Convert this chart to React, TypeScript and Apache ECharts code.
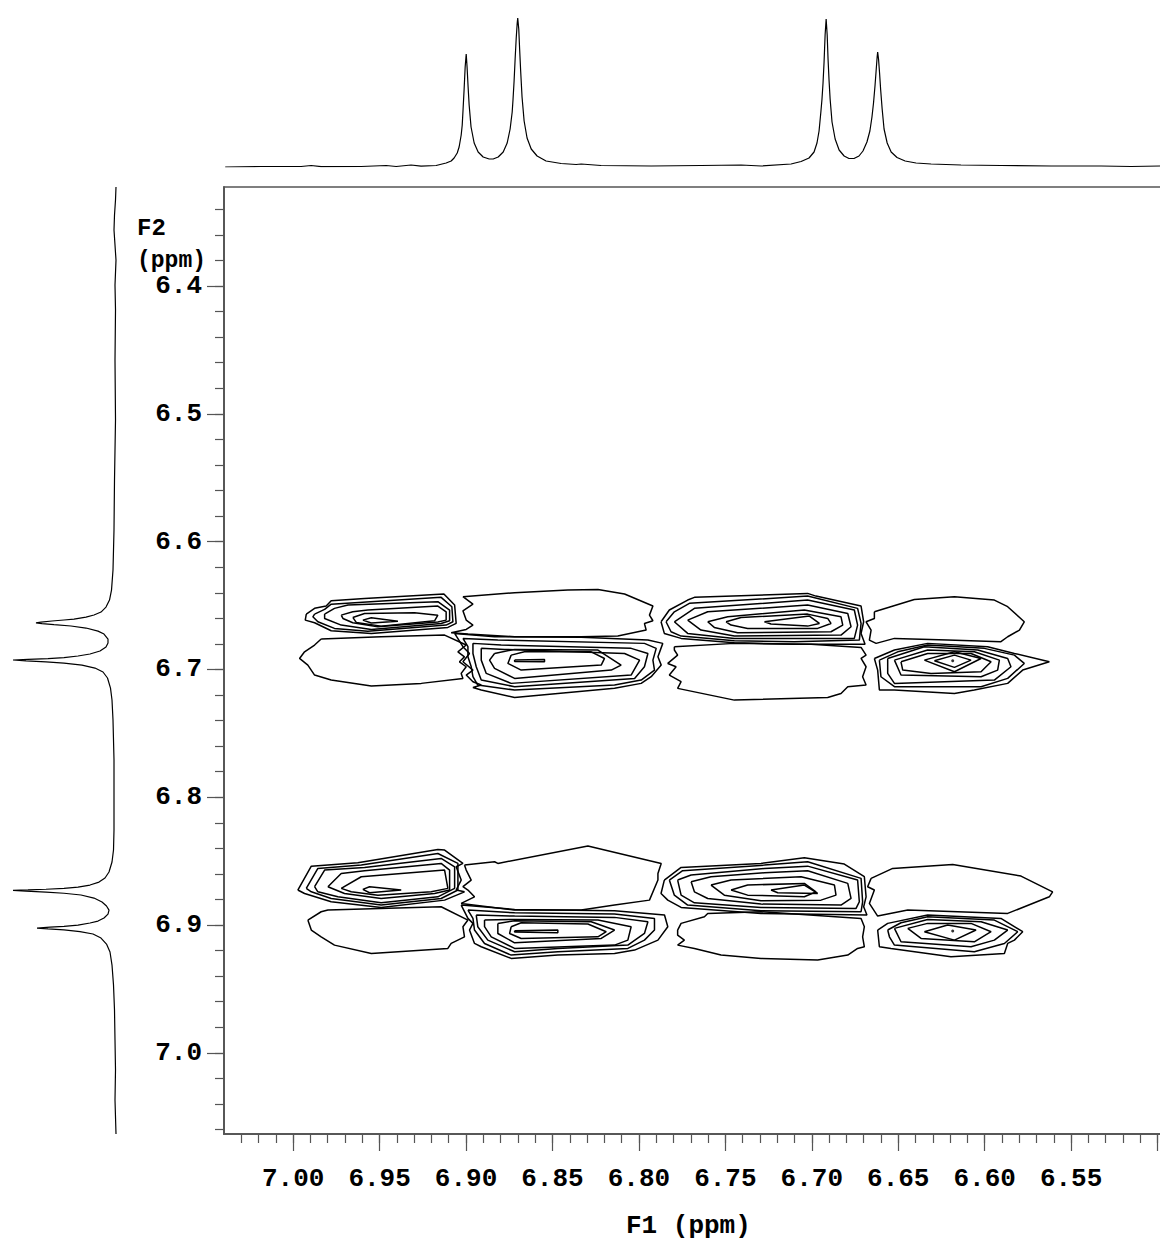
import React, { useEffect, useRef } from "react";
import * as echarts from "echarts";

// ---------- axes ----------
const F1_MIN = 6.45;
const F1_MAX = 7.04;
const F2_MIN = 6.3225;
const F2_MAX = 7.0635;
const F1_MAJOR_TICKS = [7.0, 6.95, 6.9, 6.85, 6.8, 6.75, 6.7, 6.65, 6.6, 6.55, 6.5];
const F1_LABELS = [7.0, 6.95, 6.9, 6.85, 6.8, 6.75, 6.7, 6.65, 6.6, 6.55];
const F2_LABELS = [6.4, 6.5, 6.6, 6.7, 6.8, 6.9, 7.0];
const F1_MINOR_STEP = 0.01;
const F2_MINOR_STEP = 0.02;

// ---------- 1D projections [ppm, intensity] ----------
const topSpectrum = [
  [7.0393,0],[7.0185,0.5],[6.9954,0.5],[6.9896,1.5],[6.9838,0.3],[6.9607,0.5],[6.9462,1.5],[6.9404,0.5],[6.9318,2],[6.926,0.8],[6.9173,1.5],
  [6.9115,4],[6.9086,6],[6.9069,9],[6.9051,14],[6.904,20],[6.9028,32],[6.9022,42],[6.9017,58],[6.9011,78],[6.9005,100],[6.8999,113],[6.8994,100],[6.8988,80],[6.8982,62],[6.8971,40],[6.8953,24],[6.893,15],[6.8901,10],[6.8866,8],[6.8843,8],
  [6.8814,10],[6.8785,15],[6.8762,24],[6.8745,38],[6.8733,55],[6.8728,68],[6.8722,86],[6.8716,108],[6.871,128],[6.8704,144],[6.8701,149],[6.8695,138],[6.869,118],[6.8684,96],[6.8676,70],[6.8664,46],[6.8647,29],[6.8623,18],[6.8589,11],[6.8537,6],
  [6.845,3.5],[6.8363,2.5],[6.8334,3],[6.8219,1.5],[6.7929,1],[6.764,1.5],[6.7409,2],[6.7293,1],[6.712,3],[6.7062,5.5],
  [6.7016,9],[6.6987,15],[6.697,24],[6.6958,36],[6.6947,56],[6.6941,68],[6.6935,84],[6.6929,105],[6.6923,132],[6.6917,148],[6.6911,132],[6.6906,108],[6.69,86],[6.6894,68],[6.6883,45],[6.6865,28],[6.6842,17],[6.6813,11],[6.6785,8.5],[6.6756,8.5],
  [6.6727,11],[6.6704,16],[6.6681,25],[6.6664,36],[6.6652,50],[6.6643,64],[6.6634,82],[6.6628,96],[6.6622,110],[6.6619,115],[6.6614,108],[6.6608,94],[6.6602,78],[6.6593,58],[6.6582,38],[6.6564,24],[6.6541,15],[6.6507,9.5],[6.646,6],[6.6397,4],
  [6.631,3],[6.6137,2],[6.5905,1.5],[6.5616,1],[6.5327,1],[6.5153,0.5],[6.498,1]
];
const leftSpectrum = [
  [6.3225,0],[6.3327,0.5],[6.3444,1.5],[6.3562,2],[6.3679,1],[6.3797,0],[6.3992,1],[6.4188,0.5],[6.4579,1],[6.5049,0.5],[6.5518,1.5],[6.5909,2],[6.6222,3],[6.6379,4.5],
  [6.6457,6.5],[6.6512,10],[6.6551,15],[6.6574,22],[6.659,30],[6.6606,42],[6.6613,52],[6.6621,64],[6.6629,75],[6.6635,80],[6.6641,74],[6.6649,62],[6.666,45],[6.6676,30],[6.67,18],[6.6723,12],[6.6762,8],[6.6793,8],
  [6.6825,10],[6.6856,16],[6.6879,26],[6.6895,38],[6.6907,52],[6.6915,68],[6.6921,88],[6.6926,103],[6.6933,90],[6.6941,70],[6.695,52],[6.6966,34],[6.6989,21],[6.702,13],[6.7067,8.5],[6.7146,5.5],[6.7239,4],
  [6.7396,3],[6.7709,2],[6.8022,2],[6.8257,2],[6.8413,2.5],[6.8507,4],
  [6.8585,7],[6.8632,11],[6.8664,17],[6.8687,26],[6.8703,38],[6.8713,52],[6.872,70],[6.8725,88],[6.8728,103],[6.8734,90],[6.8742,70],[6.8751,52],[6.8765,35],[6.8789,22],[6.882,14],[6.8851,9.5],[6.8883,7],
  [6.8914,8],[6.8945,12],[6.8969,18],[6.8984,26],[6.9,38],[6.901,52],[6.9017,66],[6.9024,79],[6.903,68],[6.9038,52],[6.9051,36],[6.907,23],[6.9102,15],[6.9149,9.5],[6.9211,6],[6.9313,4],
  [6.9469,2.5],[6.9665,1.5],[6.99,1],[7.0135,0.5],[7.0369,1],[7.0635,0]
];

// ---------- 2D contour rings [F1 ppm, F2 ppm] ----------
const crossA = [
  [[6.9924,6.6567],[6.9876,6.6522],[6.9809,6.6504],[6.978,6.6462],[6.9587,6.6444],[6.9128,6.641],[6.9066,6.6496],[6.9057,6.664],[6.9105,6.6671],[6.9548,6.6718],[6.978,6.6697],[6.9876,6.6635],[6.993,6.6614]],
  [[6.9876,6.6567],[6.9818,6.653],[6.978,6.6489],[6.9144,6.6436],[6.9082,6.6509],[6.9076,6.6627],[6.9115,6.6653],[6.9568,6.6702],[6.9761,6.6679],[6.9857,6.6627],[6.9886,6.6588]],
  [[6.9818,6.6567],[6.9761,6.6522],[6.9683,6.6496],[6.9163,6.647],[6.9095,6.6535],[6.9095,6.6619],[6.9144,6.664],[6.9548,6.6687],[6.9722,6.6653],[6.9818,6.6601]],
  [[6.9722,6.6575],[6.9655,6.6549],[6.9568,6.6535],[6.9163,6.6504],[6.9115,6.6549],[6.9115,6.6614],[6.9163,6.6629],[6.951,6.6666],[6.9655,6.6635],[6.9712,6.6601]],
  [[6.9655,6.6593],[6.9587,6.6562],[6.9298,6.6556],[6.9163,6.6575],[6.9182,6.6619],[6.9491,6.6661],[6.9635,6.6632]],
  [[6.9597,6.6614],[6.9548,6.6595],[6.9394,6.6622],[6.9548,6.6637]]
];
const crossB = [
  [[6.9838,6.6762],[6.9491,6.6744],[6.9124,6.6731],[6.8999,6.6809],[6.9047,6.6862],[6.9009,6.6901],[6.9038,6.694],[6.8999,6.6979],[6.9028,6.7031],[6.9018,6.707],[6.9259,6.7109],[6.9548,6.713],[6.978,6.7083],[6.9876,6.7044],[6.9915,6.6966],[6.9963,6.6914],[6.9934,6.6862],[6.9876,6.6809]]
];
const crossC = [
  [[6.9018,6.6431],[6.8719,6.64],[6.8411,6.6379],[6.8237,6.6374],[6.8083,6.641],[6.7919,6.6504],[6.7939,6.6575],[6.7919,6.6619],[6.7968,6.664],[6.7958,6.6692],[6.8122,6.6739],[6.8334,6.6744],[6.8719,6.6744],[6.8989,6.6723],[6.9086,6.6713],[6.8999,6.6687],[6.896,6.6653],[6.8999,6.6614],[6.9018,6.6541],[6.896,6.6489]]
];
const crossD = [
  [[6.9066,6.6718],[6.8835,6.6744],[6.8334,6.6748],[6.7948,6.677],[6.7862,6.6796],[6.789,6.6901],[6.7871,6.6966],[6.7929,6.7057],[6.7987,6.7109],[6.8141,6.7148],[6.8469,6.7188],[6.8719,6.7219],[6.8912,6.7161],[6.896,6.7141],[6.8912,6.7122],[6.896,6.7096],[6.8999,6.7044],[6.896,6.7005],[6.9018,6.694],[6.898,6.6875],[6.9018,6.6822]],
  [[6.9018,6.6757],[6.8816,6.677],[6.7968,6.6796],[6.79,6.6835],[6.7919,6.6927],[6.791,6.7005],[6.7987,6.7083],[6.8141,6.7122],[6.8719,6.7161],[6.8932,6.7122],[6.896,6.7057],[6.897,6.6979],[6.8989,6.6901],[6.8989,6.6822]],
  [[6.896,6.6796],[6.8797,6.6809],[6.8045,6.6835],[6.7948,6.6875],[6.7968,6.6979],[6.8025,6.707],[6.8719,6.7135],[6.8912,6.7083],[6.8941,6.6979],[6.896,6.6875]],
  [[6.8912,6.6835],[6.8777,6.6843],[6.8083,6.6875],[6.7996,6.6927],[6.8045,6.7044],[6.8739,6.7109],[6.8883,6.7031],[6.8912,6.6927]],
  [[6.8835,6.6875],[6.8719,6.6843],[6.8237,6.6848],[6.8103,6.6966],[6.816,6.7005],[6.8719,6.707],[6.8835,6.6992],[6.8864,6.6927]],
  [[6.8739,6.6888],[6.8662,6.6862],[6.8276,6.6862],[6.8199,6.6914],[6.8218,6.6966],[6.8681,6.7005],[6.8758,6.6953]],
  [[6.8719,6.6927],[6.8546,6.6922],[6.8546,6.694],[6.8719,6.6937]]
];
const crossE = [
  [[6.7872,6.6627],[6.7824,6.6535],[6.7718,6.6457],[6.7679,6.6436],[6.7024,6.6405],[6.6976,6.6426],[6.6715,6.6504],[6.67,6.6627],[6.6715,6.6718],[6.6692,6.6802],[6.7101,6.6802],[6.7448,6.6791],[6.7756,6.6757],[6.7853,6.6718]],
  [[6.7843,6.6627],[6.7795,6.6549],[6.7708,6.6483],[6.7024,6.6426],[6.6735,6.6522],[6.6715,6.664],[6.6725,6.677],[6.7101,6.6783],[6.7448,6.6775],[6.7756,6.6739],[6.7814,6.6705]],
  [[6.7795,6.6627],[6.7679,6.6522],[6.7024,6.6457],[6.6754,6.6535],[6.6735,6.6653],[6.6754,6.6757],[6.7448,6.6757],[6.7718,6.6718]],
  [[6.7718,6.6614],[6.7602,6.6549],[6.7024,6.6496],[6.6792,6.6562],[6.6773,6.6666],[6.6831,6.6731],[6.7448,6.6739],[6.7641,6.6692]],
  [[6.7602,6.6627],[6.7486,6.6588],[6.7043,6.6535],[6.6831,6.6588],[6.6821,6.6653],[6.6889,6.6705],[6.7429,6.6713],[6.7564,6.6671]],
  [[6.7496,6.6627],[6.7409,6.6593],[6.7024,6.6567],[6.6908,6.6601],[6.6889,6.664],[6.6966,6.6679],[6.7371,6.6679],[6.7467,6.6653]],
  [[6.7274,6.6627],[6.7014,6.6582],[6.6956,6.664],[6.7024,6.6661],[6.7236,6.6645]]
];
const crossF = [
  [[6.7795,6.6822],[6.7448,6.6796],[6.7004,6.6802],[6.6715,6.6828],[6.6686,6.6888],[6.6715,6.6914],[6.6686,6.6979],[6.6706,6.7057],[6.6686,6.7122],[6.6792,6.7135],[6.6831,6.7188],[6.6908,6.7219],[6.7448,6.724],[6.7776,6.7148],[6.7756,6.7096],[6.7824,6.7044],[6.7785,6.6979],[6.7833,6.6953],[6.7776,6.6888],[6.7795,6.6848]]
];
const crossG = [
  [[6.6638,6.6549],[6.6407,6.6452],[6.6175,6.6431],[6.5944,6.6457],[6.5867,6.6509],[6.5771,6.6627],[6.5799,6.6692],[6.5867,6.6744],[6.5906,6.6783],[6.6214,6.677],[6.6522,6.6757],[6.6628,6.6796],[6.6667,6.677],[6.6657,6.6692],[6.6686,6.6627],[6.6638,6.6601]]
];
const crossH = [
  [[6.6638,6.6914],[6.6522,6.6848],[6.633,6.6796],[6.5983,6.6822],[6.5828,6.6875],[6.5626,6.694],[6.578,6.7005],[6.5867,6.7109],[6.606,6.7161],[6.6175,6.7188],[6.6522,6.7161],[6.6609,6.7161],[6.6619,6.7005]],
  [[6.6609,6.6927],[6.6503,6.6862],[6.633,6.6809],[6.6002,6.6835],[6.5828,6.6888],[6.5771,6.6953],[6.5867,6.707],[6.6021,6.7135],[6.6522,6.7135],[6.66,6.7057]],
  [[6.6561,6.6914],[6.6349,6.6822],[6.604,6.6848],[6.5867,6.6914],[6.5848,6.6979],[6.5944,6.7083],[6.6522,6.7109],[6.6561,6.7031]],
  [[6.6522,6.6927],[6.633,6.6848],[6.606,6.6862],[6.5915,6.6927],[6.5925,6.7005],[6.6021,6.7057],[6.6484,6.7044]],
  [[6.6484,6.694],[6.633,6.6875],[6.6079,6.6875],[6.5963,6.694],[6.6021,6.7018],[6.631,6.7031],[6.6474,6.7005]],
  [[6.6349,6.6927],[6.6175,6.6862],[6.6021,6.6914],[6.6175,6.7018]],
  [[6.6291,6.6932],[6.6175,6.6888],[6.6079,6.6927],[6.6175,6.6984]]
];
const crossI = [
  [[6.9973,6.8726],[6.9895,6.8539],[6.9626,6.8513],[6.9163,6.8408],[6.9124,6.8413],[6.9018,6.8518],[6.9057,6.8544],[6.9028,6.8648],[6.9057,6.8726],[6.9009,6.874],[6.9124,6.8805],[6.9491,6.8862],[6.978,6.8818],[6.9934,6.8753]],
  [[6.9924,6.8713],[6.9857,6.8557],[6.9606,6.8531],[6.9163,6.844],[6.9047,6.8518],[6.9047,6.8726],[6.9144,6.8792],[6.9491,6.8844],[6.978,6.8792],[6.9895,6.874]],
  [[6.9876,6.87],[6.9818,6.857],[6.9587,6.8549],[6.9144,6.8479],[6.9066,6.8544],[6.9066,6.8713],[6.9163,6.8779],[6.9491,6.8826],[6.9741,6.8779],[6.9857,6.874]],
  [[6.9799,6.87],[6.9722,6.8596],[6.9587,6.8575],[6.9144,6.8518],[6.9095,6.857],[6.9095,6.8726],[6.9182,6.8753],[6.9491,6.8792],[6.9703,6.8753]],
  [[6.9722,6.8713],[6.9606,6.8622],[6.9124,6.857],[6.9105,6.8713],[6.9201,6.874],[6.951,6.8766],[6.9664,6.874]],
  [[6.9597,6.8721],[6.9558,6.87],[6.9375,6.8726],[6.9558,6.8747]]
];
const crossJ = [
  [[6.9915,6.8961],[6.9838,6.8896],[6.9799,6.8883],[6.9144,6.8857],[6.8989,6.8961],[6.9018,6.9013],[6.9009,6.9092],[6.9086,6.9144],[6.9105,6.9183],[6.9548,6.9222],[6.9761,6.9157],[6.9838,6.9092],[6.9895,6.9039]]
];
const crossK = [
  [[6.9009,6.8531],[6.8835,6.8505],[6.8816,6.8518],[6.8295,6.8382],[6.7871,6.8518],[6.789,6.8596],[6.789,6.8648],[6.7939,6.8805],[6.8141,6.8844],[6.8334,6.8883],[6.8719,6.8883],[6.9028,6.8831],[6.8951,6.8779],[6.8989,6.8726],[6.9018,6.87],[6.897,6.8648],[6.8999,6.857]]
];
const crossL = [
  [[6.9028,6.8844],[6.8719,6.8878],[6.8141,6.8888],[6.7852,6.8922],[6.7833,6.9013],[6.789,6.9118],[6.8025,6.9196],[6.8141,6.9222],[6.8469,6.9235],[6.8739,6.9261],[6.8912,6.917],[6.8951,6.9144],[6.898,6.9039],[6.896,6.8987],[6.8989,6.8948]],
  [[6.8989,6.8883],[6.8719,6.8904],[6.8141,6.8914],[6.791,6.8948],[6.791,6.9039],[6.7968,6.9118],[6.8064,6.9183],[6.8469,6.9209],[6.8739,6.9235],[6.8893,6.9144],[6.8951,6.9039],[6.896,6.8948]],
  [[6.8941,6.8922],[6.8719,6.893],[6.8141,6.894],[6.7948,6.8974],[6.7968,6.9066],[6.8064,6.9157],[6.8469,6.9183],[6.8719,6.9209],[6.8874,6.9118],[6.8932,6.9013]],
  [[6.8893,6.8961],[6.8719,6.8956],[6.8237,6.8961],[6.8045,6.9013],[6.8064,6.9118],[6.8141,6.9157],[6.8719,6.9183],[6.8854,6.9092],[6.8893,6.9013]],
  [[6.8816,6.8987],[6.8719,6.8966],[6.8276,6.8974],[6.8141,6.9039],[6.8218,6.9105],[6.8719,6.9139],[6.8816,6.9066]],
  [[6.8739,6.9013],[6.8681,6.8982],[6.8295,6.8992],[6.8189,6.9052],[6.8237,6.9092],[6.8681,6.9105],[6.8748,6.9066]],
  [[6.8719,6.9045],[6.8469,6.9039],[6.8469,6.906],[6.8719,6.9055]]
];
const crossM = [
  [[6.7853,6.8648],[6.7756,6.8549],[6.7294,6.8518],[6.7043,6.8473],[6.6812,6.8523],[6.6696,6.8622],[6.6686,6.8779],[6.67,6.8857],[6.6681,6.8922],[6.7294,6.8909],[6.7756,6.8862],[6.7833,6.8805],[6.7872,6.8753]],
  [[6.7824,6.8648],[6.7747,6.8575],[6.7274,6.8531],[6.7024,6.8505],[6.6715,6.8635],[6.6706,6.8818],[6.6715,6.8896],[6.7294,6.8888],[6.7718,6.8844],[6.7795,6.8766]],
  [[6.7776,6.8648],[6.7698,6.8609],[6.7274,6.8557],[6.7024,6.8539],[6.6735,6.8648],[6.6725,6.8818],[6.6744,6.887],[6.7294,6.8862],[6.7679,6.8826],[6.7756,6.8766]],
  [[6.7698,6.8661],[6.7583,6.8622],[6.7274,6.8591],[6.7024,6.8575],[6.6792,6.8674],[6.6773,6.8792],[6.6831,6.8844],[6.7294,6.8836],[6.7602,6.8792],[6.7679,6.874]],
  [[6.7583,6.8687],[6.7467,6.8648],[6.7062,6.8622],[6.6869,6.8687],[6.686,6.8766],[6.6947,6.8805],[6.7294,6.881],[6.7506,6.8766]],
  [[6.7467,6.8726],[6.7371,6.8687],[6.7043,6.8674],[6.6976,6.874],[6.7043,6.8779],[6.7371,6.8766]],
  [[6.7236,6.8726],[6.7043,6.8687],[6.6966,6.8753],[6.7197,6.8747]]
];
const crossN = [
  [[6.7776,6.9039],[6.7756,6.8987],[6.7621,6.8935],[6.7602,6.8909],[6.7294,6.8896],[6.6715,6.8948],[6.6696,6.9013],[6.6706,6.9092],[6.6696,6.917],[6.6735,6.9183],[6.6792,6.9235],[6.6966,6.9274],[6.7294,6.9261],[6.7525,6.9235],[6.7679,6.9183],[6.7776,6.9157],[6.7737,6.9118],[6.7776,6.9079]]
];
const crossO = [
  [[6.6657,6.8635],[6.6532,6.8557],[6.6185,6.8526],[6.579,6.8617],[6.5607,6.874],[6.5626,6.8779],[6.5867,6.8909],[6.6445,6.8883],[6.6619,6.893],[6.6667,6.8831],[6.6638,6.8726],[6.6677,6.87]]
];
const crossP = [
  [[6.6619,6.9039],[6.6561,6.8987],[6.633,6.8922],[6.5906,6.8948],[6.578,6.9052],[6.5828,6.9118],[6.5867,6.9144],[6.5886,6.9222],[6.6195,6.9248],[6.6542,6.9183],[6.6609,6.917]],
  [[6.6561,6.9039],[6.6484,6.8982],[6.633,6.8935],[6.5944,6.8961],[6.5809,6.9052],[6.5886,6.9144],[6.606,6.9209],[6.6522,6.9157],[6.6551,6.9092]],
  [[6.6522,6.9026],[6.633,6.8956],[6.6021,6.8974],[6.5867,6.9039],[6.5944,6.9118],[6.6079,6.917],[6.6484,6.9131]],
  [[6.6445,6.9026],[6.633,6.8987],[6.6079,6.8987],[6.5963,6.9052],[6.606,6.9131],[6.6368,6.9105]],
  [[6.6349,6.9052],[6.6214,6.9],[6.605,6.9039],[6.6175,6.9118]]
];
const peakApexes = [[6.6185, 6.6932], [6.6185, 6.9047]];

const crossPeaks = [crossA, crossB, crossC, crossD, crossE, crossF, crossG, crossH, crossI, crossJ, crossK, crossL, crossM, crossN, crossO, crossP];

const FONT = "Liberation Mono";
const LINE = "#000";
const AXIS = "#555";

export default function App() {
  const ref = useRef<HTMLDivElement>(null);
  useEffect(() => {
    document.body.style.margin = "0";
    const chart = echarts.init(ref.current as HTMLDivElement, null, { renderer: "svg" });

    const f1Minor: number[] = [];
    for (let v = F1_MIN + F1_MINOR_STEP; v < F1_MAX - 1e-6; v += F1_MINOR_STEP) f1Minor.push(Math.round(v * 100) / 100);
    const f2Minor: number[] = [];
    for (let k = Math.ceil(F2_MIN / F2_MINOR_STEP); k * F2_MINOR_STEP <= F2_MAX; k++) f2Minor.push(Math.round(k * F2_MINOR_STEP * 100) / 100);

    const labelStyle = { fontFamily: FONT, fontWeight: "bold" as const, fontSize: 26, color: "#000" };

    const contourSeries: any[] = [];
    crossPeaks.forEach((rings) =>
      rings.forEach((ring) => {
        contourSeries.push({
          type: "line",
          xAxisIndex: 0,
          yAxisIndex: 0,
          data: [...ring, ring[0]],
          symbol: "none",
          silent: true,
          lineStyle: { color: LINE, width: 1.5 },
          z: 3,
        });
      })
    );

    const option: any = {
      animation: false,
      backgroundColor: "#fff",
      grid: [
        { left: 224, top: 187, width: 1020, height: 947, show: true, borderColor: AXIS, borderWidth: 1.5, backgroundColor: "transparent", outerBoundsMode: "none" },
        { left: 224, top: 17, width: 1020, height: 150, outerBoundsMode: "none" },
        { left: 13, top: 187, width: 103, height: 947, outerBoundsMode: "none" },
      ],
      xAxis: [
        {
          gridIndex: 0, type: "value", min: F1_MIN, max: F1_MAX, inverse: true, position: "bottom",
          axisLine: { show: true, onZero: false, lineStyle: { color: AXIS, width: 1.5 } },
          axisTick: { show: true, inside: false, length: 9, customValues: f1Minor, lineStyle: { color: AXIS, width: 1.2 } },
          axisLabel: { show: false },
          splitLine: { show: false },
        },
        {
          gridIndex: 0, type: "value", min: F1_MIN, max: F1_MAX, inverse: true, position: "bottom",
          axisLine: { show: true, onZero: false, lineStyle: { color: AXIS, width: 1.5 } },
          axisTick: { show: true, inside: false, length: 17, customValues: F1_MAJOR_TICKS, lineStyle: { color: AXIS, width: 1.2 } },
          axisLabel: { show: true, margin: 32, customValues: F1_LABELS, formatter: (v: number) => v.toFixed(2), ...labelStyle },
          splitLine: { show: false },
        },
        { gridIndex: 1, type: "value", min: F1_MIN, max: F1_MAX, inverse: true, show: false },
        { gridIndex: 2, type: "value", min: 0, max: 103, inverse: true, show: false },
      ],
      yAxis: [
        {
          gridIndex: 0, type: "value", min: F2_MIN, max: F2_MAX, inverse: true, position: "left",
          axisLine: { show: true, onZero: false, lineStyle: { color: AXIS, width: 1.5 } },
          axisTick: { show: true, inside: false, length: 9, customValues: f2Minor, lineStyle: { color: AXIS, width: 1.2 } },
          axisLabel: { show: false },
          splitLine: { show: false },
        },
        {
          gridIndex: 0, type: "value", min: F2_MIN, max: F2_MAX, inverse: true, position: "left",
          axisLine: { show: true, onZero: false, lineStyle: { color: AXIS, width: 1.5 } },
          axisTick: { show: true, inside: false, length: 17, customValues: F2_LABELS, lineStyle: { color: AXIS, width: 1.2 } },
          axisLabel: { show: true, margin: 22, customValues: F2_LABELS, formatter: (v: number) => v.toFixed(1), ...labelStyle, lineHeight: 18 },
          splitLine: { show: false },
        },
        { gridIndex: 1, type: "value", min: 0, max: 150, show: false },
        { gridIndex: 2, type: "value", min: F2_MIN, max: F2_MAX, inverse: true, show: false },
      ],
      graphic: [
        { type: "text", left: 137, top: 216, style: { text: "F2", fontFamily: FONT, fontWeight: "bold", fontSize: 24, fill: "#000" } },
        { type: "text", left: 137, top: 249, style: { text: "(ppm)", fontFamily: FONT, fontWeight: "bold", fontSize: 23, fill: "#000" } },
        { type: "text", left: 626, top: 1213, style: { text: "F1 (ppm)", fontFamily: FONT, fontWeight: "bold", fontSize: 26, fill: "#000" } },
      ],
      series: [
        ...contourSeries,
        {
          type: "scatter", xAxisIndex: 0, yAxisIndex: 0, data: peakApexes, symbol: "circle", symbolSize: 3,
          itemStyle: { color: LINE }, silent: true, z: 4,
        },
        {
          type: "line", xAxisIndex: 2, yAxisIndex: 2, data: topSpectrum, symbol: "none", silent: true,
          lineStyle: { color: LINE, width: 1.2 },
        },
        {
          type: "line", xAxisIndex: 3, yAxisIndex: 3, data: leftSpectrum.map(([p, i]) => [i, p]), symbol: "none", silent: true,
          lineStyle: { color: LINE, width: 1.2 },
        },
      ],
    };
    chart.setOption(option);
    return () => chart.dispose();
  }, []);
  return <div ref={ref} style={{ position: "absolute", left: 0, top: 0, width: 1160, height: 1245 }} />;
}
